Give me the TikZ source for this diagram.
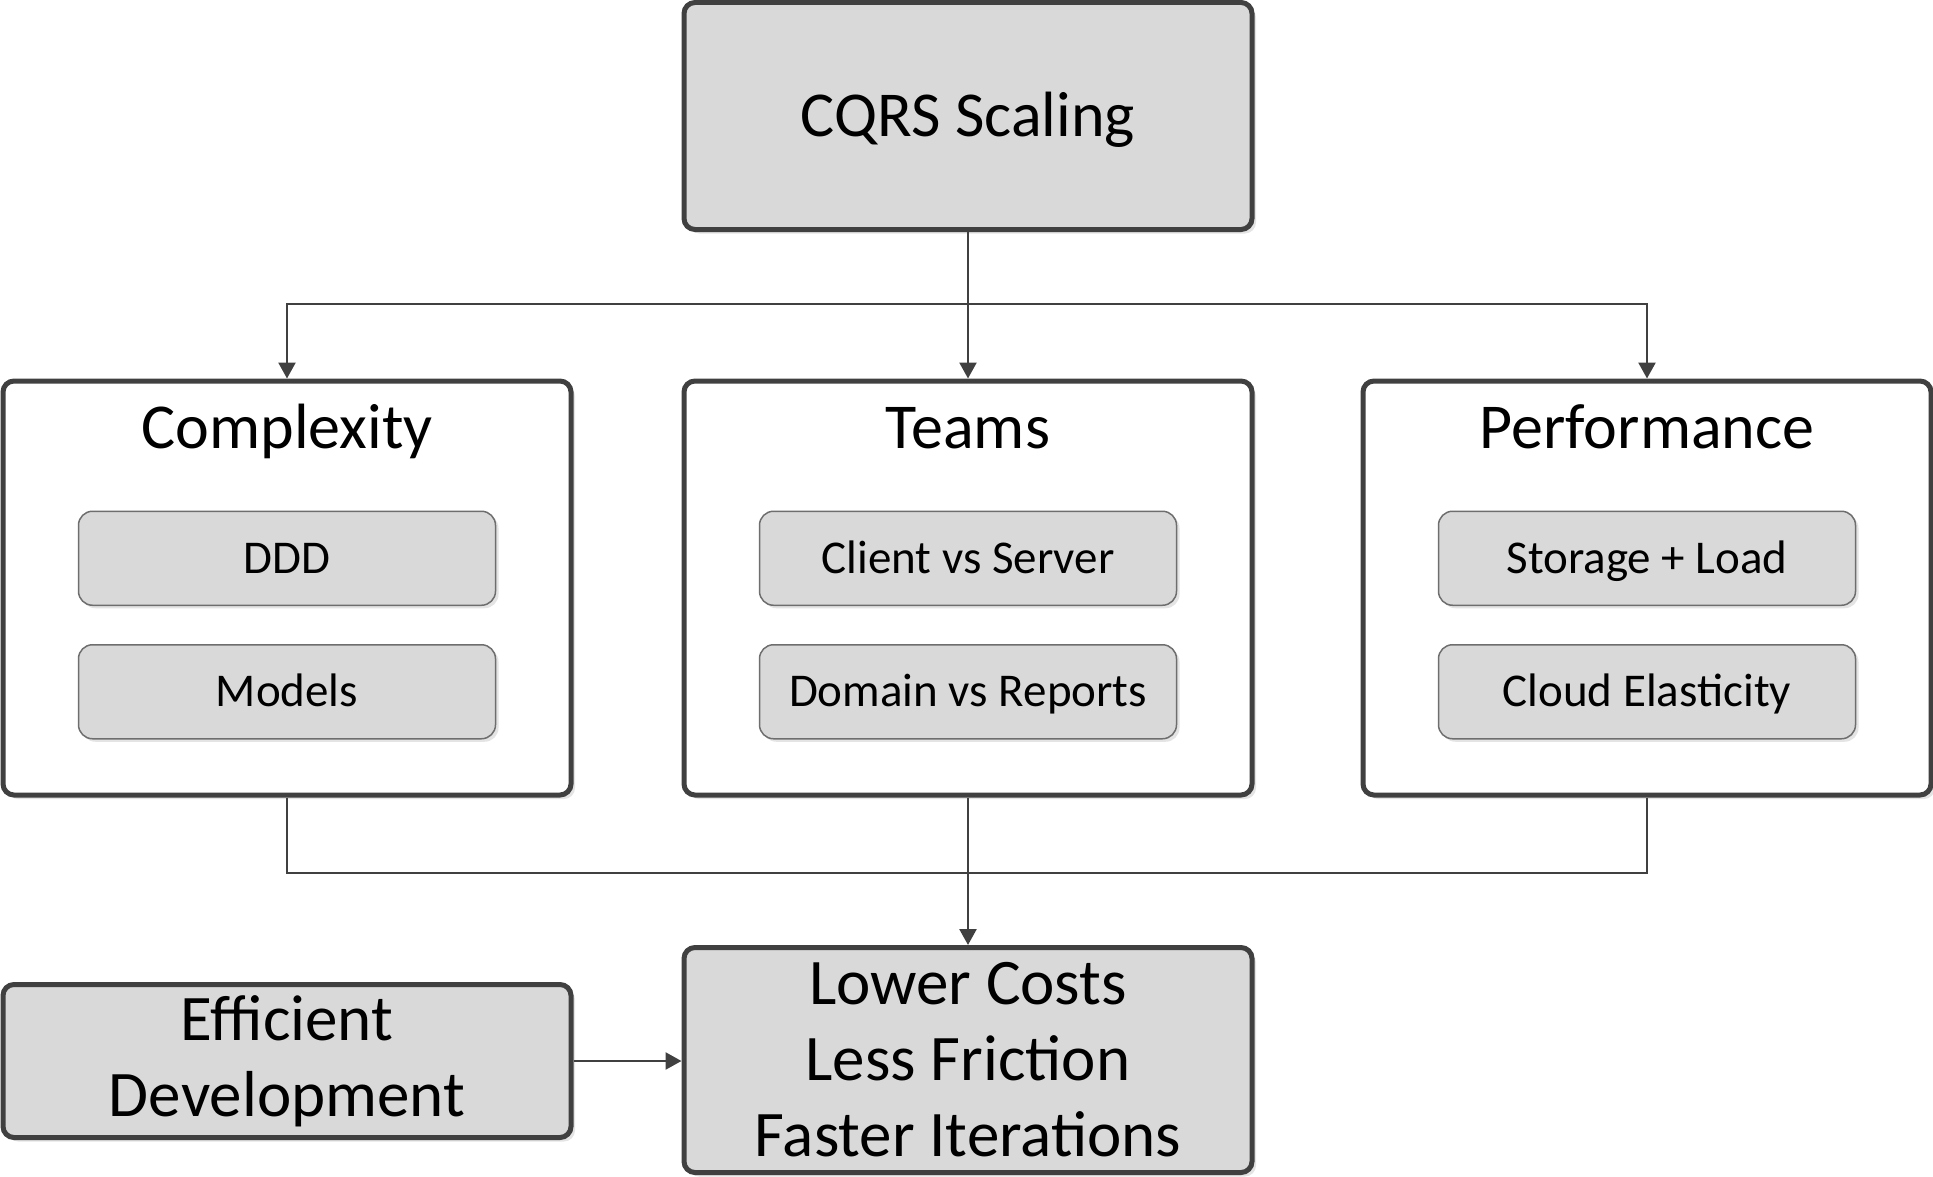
\documentclass[tikz,border=0pt]{standalone}
\usepackage{fontspec}
\setmainfont{Carlito}
\usetikzlibrary{positioning,shadows,arrows.meta}

\definecolor{boxline}{HTML}{404040}
\definecolor{boxfill}{HTML}{D9D9D9}
\definecolor{itemline}{HTML}{6E6E6E}
\definecolor{shadowgray}{HTML}{E4E4E4}

\tikzset{
  big_box/.style={
      draw=boxline, line width=2.5pt, rounded corners=5.5pt,
      minimum width=284pt, inner sep=0pt, align=center,
      drop shadow={shadow xshift=2pt, shadow yshift=-2pt, fill=shadowgray, opacity=1}},
  filled_box/.style={big_box, fill=boxfill, font=\fontsize{32.5}{38}\selectfont},
  group_box/.style={big_box, fill=white, minimum height=207pt},
  group_title/.style={inner sep=0pt, anchor=base, font=\fontsize{32}{38}\selectfont},
  item_box/.style={
      draw=itemline, line width=0.75pt, fill=boxfill, rounded corners=7pt,
      minimum width=208.5pt, minimum height=47pt, inner sep=0pt,
      text height=15pt, text depth=0pt, font=\fontsize{23.5}{28}\selectfont,
      drop shadow={shadow xshift=1.5pt, shadow yshift=-1.5pt, fill=shadowgray, opacity=1}},
  bus_line/.style={draw=boxline, line width=1.25pt},
  arrow_line/.style={bus_line, -{Triangle[length=8pt,width=8.5pt]}}
}

\begin{document}
\begin{tikzpicture}[x=0.5pt,y=-0.5pt]
        \useasboundingbox (0,0) rectangle (1933,1177);
        \node[filled_box, minimum height=113.5pt, text height=20.5pt, text depth=0pt,
          font=\fontsize{32}{38}\selectfont] (cqrs) at (968,116) {CQRS Scaling};
        \foreach \name/\x/\title in {complexity/287/Complexity, teams/968/Teams, performance/1647/Performance} {
            \node[group_box] (\name) at (\x,588) {};
            \node[group_title] (\name_title) at ([yshift=-35pt]\name.north) {\title};
          }
        \foreach \name/\first/\second in {complexity/DDD/Models, teams/Client vs Server/Domain vs Reports, performance/Storage + Load/Cloud Elasticity} {
            \node[item_box, below=66pt of \name.north] (\name_a) {\first};
            \node[item_box, below=19pt of \name_a] (\name_b) {\second};
          }
        \node[filled_box, minimum height=112.5pt] (costs) at (968,1060) {Lower Costs\\Less Friction\\Faster Iterations};
        \node[filled_box, minimum height=76.5pt] (efficient) at (287,1061) {\raisebox{-1.5pt}{Efficient}\\\raisebox{-1.5pt}{Development}};

        % fan out
        \coordinate (top_bus) at (968,304);
        \draw[arrow_line] (cqrs.south) -- (teams.north);
        \draw[arrow_line] (top_bus) -| (complexity.north);
        \draw[arrow_line] (top_bus) -| (performance.north);
        % gather
        \coordinate (low_bus) at (968,873);
        \draw[bus_line] (complexity.south) |- (low_bus);
        \draw[bus_line] (performance.south) |- (low_bus);
        \draw[arrow_line] (teams.south) -- (costs.north);
        \draw[arrow_line] (efficient.east) -- (efficient.east -| costs.west);
      \end{tikzpicture}
\end{document}
